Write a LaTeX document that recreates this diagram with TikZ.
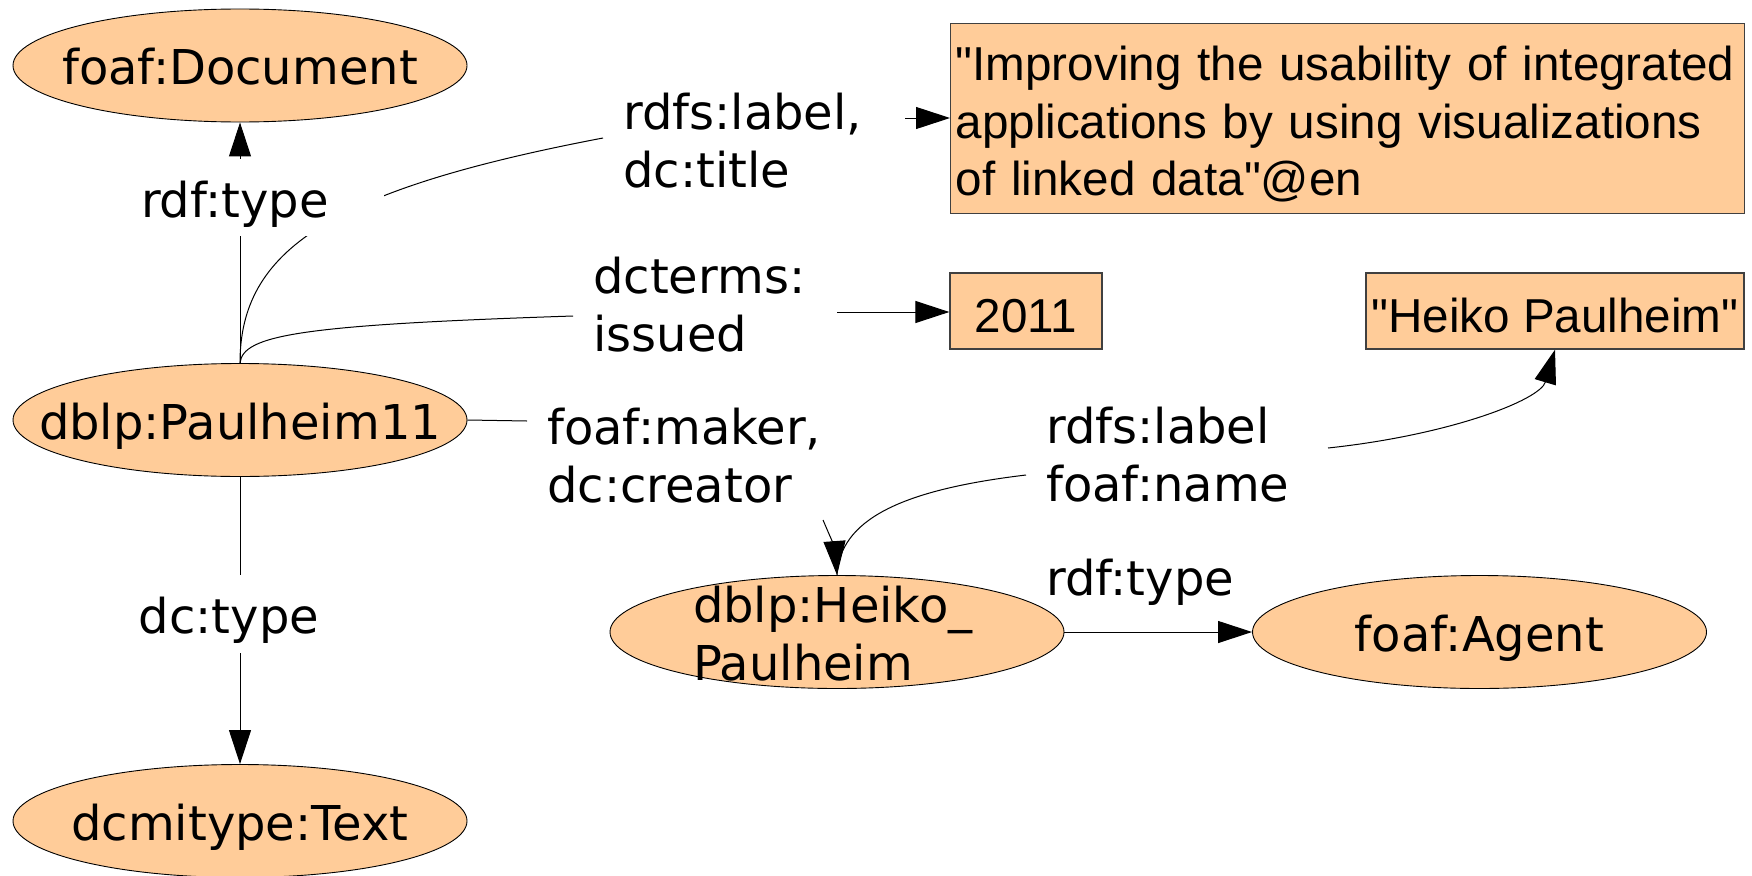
\documentclass[tikz,border=0pt]{standalone}
\usepackage{fontspec}
\setmainfont{DejaVu Sans}
\newfontfamily\litfont{Liberation Sans}
\usetikzlibrary{shapes.geometric,arrows.meta}
\definecolor{peach}{RGB}{255,204,153}
\pgfdeclarelayer{edgelayer}
\pgfsetlayers{edgelayer,main}
\begin{document}
\begin{tikzpicture}[x=1pt,y=-1pt,
  res/.style={ellipse, draw=black, line width=0.9pt, fill=peach,
    minimum width=454pt, minimum height=113pt, inner sep=0pt,
    text height=49pt, text depth=11pt, font=\fontsize{48}{58}\selectfont},
  lit/.style={rectangle, draw=black!75, line width=1.3pt, fill=peach,
    font=\litfont\fontsize{47.6}{57.5}\selectfont},
  lbl/.style={inner sep=0pt, font=\fontsize{48}{58}\selectfont},
  edge/.style={draw=black, line width=1pt},
  arr/.style={edge, -{Triangle[length=34pt,width=22pt]}}
]
\useasboundingbox (0,0) rectangle (1752,875);

% resources
\node[res] (doc) at (240,65.5) {\makebox[0pt]{foaf:Document}};
\node[res] (p11) at (240,420) {\makebox[0pt]{dblp:Paulheim11}};
\node[res] (dcmi) at (240,821) {\makebox[0pt]{dcmitype:Text}};
\node[res, text height=0pt, text depth=0pt] (heiko) at (837,632)
  {\makebox[0pt]{\smash{\raisebox{10pt}{\parbox[t]{288pt}{\raggedright dblp:Heiko\_\\Paulheim}}}}};
\node[res] (agent) at (1479.5,632) {\makebox[0pt]{foaf:Agent}};

% literals
\node[lit, anchor=north west, text width=784pt, inner xsep=5pt, inner ysep=0pt, align=left] (title) at (950,23)
  {\rule{0pt}{57pt}"Improving the usability of integrated\\applications by using visualizations\\of linked data"@en\rule[-18pt]{0pt}{18pt}};
\node[lit, minimum width=152pt, inner ysep=0pt, text height=59pt, text depth=17pt] (y2011) at (1026,311) {2011};
\node[lit, minimum width=378pt, inner xsep=0pt, inner ysep=0pt, text height=59pt, text depth=17pt] (hlit) at (1555,311) {"Heiko Paulheim"};

% edge labels
\node[lbl, anchor=base, fill=white, minimum width=298pt, text height=58pt, text depth=19pt] (lrdf) at (235,217) {rdf:type};
\node[lbl, anchor=base, fill=white, minimum width=298pt, text height=58pt, text depth=20pt] (ldct) at (229,633) {dc:type};
\node[lbl, anchor=north west, align=left] (ltitle) at (623,92.5) {rdfs:label,\\dc:title};
\node[lbl, anchor=north west, align=left] (lissued) at (593,256.5) {dcterms:\\issued};
\node[lbl, anchor=north west, align=left] (lmaker) at (547,407.5) {foaf:maker,\\dc:creator};
\node[lbl, anchor=north west, align=left] (lname) at (1046,406.5) {rdfs:label\\foaf:name};
\node[lbl, anchor=base west] (lrdf2) at (1046,595) {rdf:type};

% glue points of the labels
\coordinate (ltin) at (603,138);
\coordinate (ltout) at (905,118);
\coordinate (lisin) at (573,316);
\coordinate (lisout) at (837,312);
\coordinate (lmin) at (527,421);
\coordinate (lmout) at (823,520);
\coordinate (lnin) at (1026,475);
\coordinate (lnout) at (1328,448);

\begin{pgfonlayer}{edgelayer}
  \draw[edge] (p11.north) -- (p11.north |- lrdf.south);
  \draw[arr] (p11.north |- lrdf.north) -- (doc.south);
  \draw[edge] (p11.south) -- (p11.south |- ldct.north);
  \draw[arr] (p11.south |- ldct.south) -- (dcmi.north);
  \draw[edge] (p11.north) .. controls (240,250) and (330,190) .. (ltin);
  \draw[arr] (ltout) -- (title.west |- ltout);
  \draw[edge] (p11.north) .. controls (243,335) and (300,325) .. (lisin);
  \draw[arr] (lisout) -- (y2011.west |- lisout);
  \draw[edge] (p11.east) -- (lmin);
  \draw[arr] (lmout) .. controls (835,548) .. (heiko.north);
  \draw[edge] (heiko.north) .. controls (840,520) and (900,490) .. (lnin);
  \draw[arr] (lnout) .. controls (1450,435) and (1540,400) .. (hlit.south);
  \draw[arr] (heiko.east) -- (agent.west);
\end{pgfonlayer}
\end{tikzpicture}
\end{document}
